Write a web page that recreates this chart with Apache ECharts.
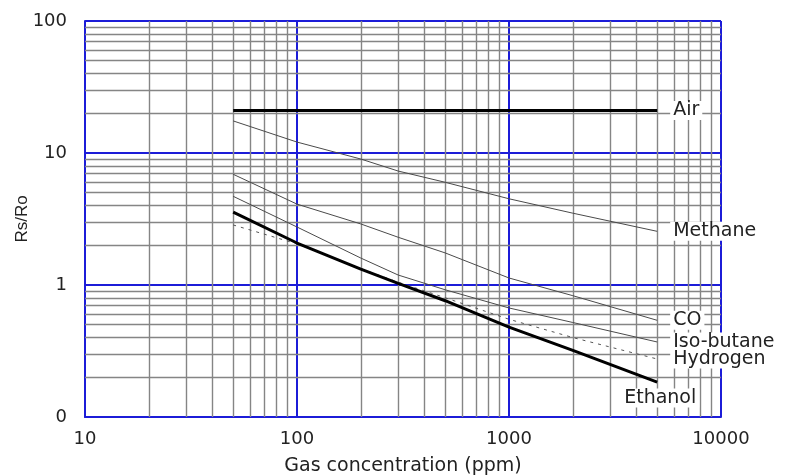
<!DOCTYPE html>
<html>
<head>
<meta charset="utf-8">
<script src="https://cdn.jsdelivr.net/npm/echarts@6/dist/echarts.min.js"></script>
<style>
  html, body { margin: 0; padding: 0; background: #fff; }
  #main { width: 789px; height: 475px; }
</style>
</head>
<body>
<div id="main"></div>
<script>
// gas concentration points (ppm)
const conc = [50, 100, 200, 300, 500, 1000, 2000, 5000];
const airConc = [50, 5000];

// Rs/Ro
const air = [21, 21];
const methane = [17.5, 12.1, 9.0, 7.3, 6.0, 4.5, 3.5, 2.55];
const co = [6.9, 4.1, 2.9, 2.3, 1.75, 1.13, 0.83, 0.54];
const isoButane = [4.7, 2.75, 1.6, 1.19, 0.92, 0.67, 0.52, 0.37];
const hydrogen = [2.85, 2.05, 1.33, 1.05, 0.8, 0.55, 0.40, 0.275];
const ethanol = [3.57, 2.08, 1.32, 1.03, 0.76, 0.48, 0.32, 0.184];

// minor grid (2..9 in each decade)
const steps = [2, 3, 4, 5, 6, 7, 8, 9];
const xDecades = [10, 100, 1000];
const yDecades = [0.1, 1, 10];

const minorX = [];
xDecades.forEach(d => steps.forEach(s => minorX.push(d * s)));
const minorY = [];
yDecades.forEach(d => steps.forEach(s => minorY.push(+(d * s).toPrecision(3))));

const FONT = 'DejaVu Sans, Verdana, sans-serif';
const TEXT = '#222';
const BLUE = '#1c1cd8';
const GRID = '#858585';

function pair(xs, ys) {
  return xs.map((x, i) => [x, ys[i]]);
}

function curve(name, xs, ys, style, label) {
  return {
    name: name,
    type: 'line',
    data: pair(xs, ys),
    symbol: 'none',
    z: 5,
    lineStyle: style,
    endLabel: Object.assign({
      show: true,
      formatter: name,
      color: TEXT,
      fontFamily: FONT,
      fontSize: 19,
      distance: 13,
      backgroundColor: '#fff',
      padding: [0, 3, 0, 3]
    }, label || {})
  };
}

const chart = echarts.init(document.getElementById('main'));

const option = {
  animation: false,
  grid: { left: 85, right: 68, top: 21, bottom: 58, outerBoundsMode: 'none', containLabel: false },
  xAxis: {
    type: 'log',
    logBase: 10,
    min: 10,
    max: 10000,
    name: 'Gas concentration (ppm)',
    nameLocation: 'middle',
    nameGap: 40,
    nameMoveOverlap: false,
    nameTextStyle: { color: TEXT, fontFamily: FONT, fontSize: 19 },
    axisLine: { show: true, lineStyle: { color: BLUE, width: 2 } },
    axisTick: { show: false },
    axisLabel: {
      color: TEXT, fontFamily: FONT, fontSize: 18, margin: 13,
      formatter: v => String(Math.round(v))
    },
    splitLine: { show: true, lineStyle: { color: BLUE, width: 2 } }
  },
  yAxis: {
    type: 'log',
    logBase: 10,
    min: 0.1,
    max: 100,
    name: 'Rs/Ro',
    nameLocation: 'middle',
    nameGap: 54,
    nameMoveOverlap: false,
    nameTextStyle: { color: TEXT, fontFamily: 'Liberation Sans, Arial, sans-serif', fontSize: 17 },
    axisLine: { show: true, lineStyle: { color: BLUE, width: 2 } },
    axisTick: { show: false },
    axisLabel: {
      color: TEXT, fontFamily: FONT, fontSize: 18, margin: 18,
      formatter: v => (v < 1 ? '0' : String(Math.round(v)))
    },
    splitLine: { show: true, lineStyle: { color: BLUE, width: 2 } }
  },
  series: [
    {
      name: 'grid',
      type: 'line',
      data: [],
      silent: true,
      z: 1,
      markLine: {
        silent: true,
        symbol: 'none',
        label: { show: false },
        lineStyle: { color: GRID, width: 1.4, type: 'solid' },
        data: minorX.map(v => ({ xAxis: v })).concat(minorY.map(v => ({ yAxis: v })))
      }
    },
    curve('Air', airConc, air, { color: '#000', width: 3 }),
    curve('Methane', conc, methane, { color: '#4a4a4a', width: 1 }),
    curve('CO', conc, co, { color: '#4a4a4a', width: 1 }),
    curve('Iso-butane', conc, isoButane, { color: '#4a4a4a', width: 1 }),
    curve('Hydrogen', conc, hydrogen, { color: '#555', width: 1, type: [3, 5] }),
    curve('Ethanol', conc, ethanol, { color: '#000', width: 3 }, { offset: [-49, 16] })
  ]
};

chart.setOption(option);
</script>
</body>
</html>
